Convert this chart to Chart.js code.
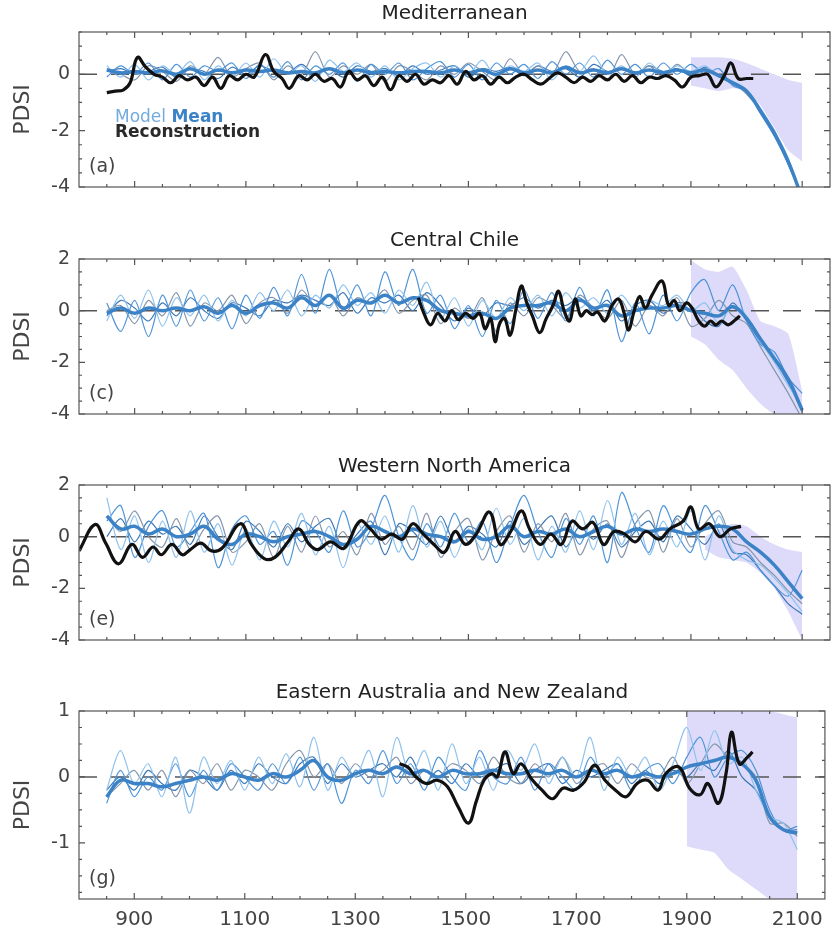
<!DOCTYPE html>
<html>
<head>
<meta charset="utf-8">
<title>PDSI model mean and reconstruction</title>
<script src="https://cdn.jsdelivr.net/npm/chart.js@4.4.0/dist/chart.umd.min.js"></script>
<style>
  html, body { margin: 0; padding: 0; background: #fff; }
  body { width: 832px; height: 932px; position: relative; overflow: hidden; }
  .panel { position: absolute; left: 0; width: 832px; }
</style>
</head>
<body>
<div class="panel" style="top:0;height:227px"><canvas id="chartA"></canvas></div>
<div class="panel" style="top:227px;height:226px"><canvas id="chartC"></canvas></div>
<div class="panel" style="top:453px;height:226px"><canvas id="chartE"></canvas></div>
<div class="panel" style="top:679px;height:253px"><canvas id="chartG"></canvas></div>
<script>
// ---- data ----
const modelYears = [
  850, 875, 900, 925, 950, 975, 1000, 1025, 1050, 1075,
  1100, 1125, 1150, 1175, 1200, 1225, 1250, 1275, 1300, 1325,
  1350, 1375, 1400, 1425, 1450, 1475, 1500, 1525, 1550, 1575,
  1600, 1625, 1650, 1675, 1700, 1725, 1750, 1775, 1800, 1825,
  1850, 1875, 1900, 1925, 1950, 1975, 2000, 2025, 2050, 2075,
  2100
];
const xLabels = [900, 1100, 1300, 1500, 1700, 1900, 2100];

// Mediterranean
const medModel1 = [
  0.30, -0.10, 0.35, -0.20, 0.30, 0.00, 0.45, -0.20, 0.30, -0.10,
  0.40, -0.10, 0.55, 0.00, 0.30, -0.25, 0.50, 0.10, 0.40, -0.10,
  0.30, -0.20, 0.20, 0.40, -0.10, 0.30, 0.00, 0.50, -0.10, 0.30,
  0.10, 0.40, -0.20, 0.30, 0.10, 0.65, 0.00, 0.30, -0.10, 0.40,
  0.00, 0.30, 0.10, 0.30, -0.10, -0.25, -0.55, -1.20, -2.00, -3.00,
  -4.40
];
const medModel2 = [
  -0.10, 0.30, 0.00, 0.40, -0.20, 0.35, -0.10, 0.30, 0.10, 0.40,
  -0.15, 0.35, -0.10, 0.45, -0.20, 0.30, 0.00, 0.40, -0.25, 0.35,
  0.00, 0.40, -0.20, 0.20, 0.45, -0.10, 0.35, -0.20, 0.40, 0.00,
  0.35, -0.15, 0.45, 0.00, 0.40, -0.10, 0.50, 0.00, 0.35, -0.10,
  0.40, 0.00, 0.35, 0.00, 0.20, -0.40, -0.60, -1.40, -2.20, -3.20,
  -4.30
];
const medModel3 = [
  0.20, 0.00, -0.20, 0.30, 0.10, -0.25, 0.30, 0.00, 0.60, -0.10,
  0.20, 0.40, -0.20, 0.30, 0.00, 0.80, -0.10, 0.30, 0.00, 0.35,
  -0.25, 0.30, 0.10, -0.20, 0.30, 0.00, 0.40, 0.10, -0.20, 0.55,
  0.00, 0.30, 0.00, 0.80, 0.10, 0.20, -0.20, 0.70, 0.00, 0.30,
  -0.10, 0.35, 0.00, 0.20, 0.00, -0.30, -0.70, -1.30, -2.10, -3.10,
  -4.40
];
const medModel4 = [
  0.10, 0.20, 0.00, 0.10, 0.25, -0.10, 0.20, 0.10, -0.15, 0.25,
  0.00, 0.30, 0.10, 0.05, 0.35, 0.00, 0.20, -0.10, 0.30, 0.10,
  0.20, -0.05, 0.30, 0.00, 0.15, 0.30, -0.10, 0.20, 0.10, 0.25,
  -0.05, 0.30, 0.10, 0.20, -0.10, 0.35, 0.10, 0.20, 0.00, 0.30,
  0.10, 0.20, -0.05, 0.25, -0.05, -0.35, -0.55, -1.30, -2.00, -3.20,
  -4.30
];
const medMean = [
  0.15, 0.05, 0.10, 0.05, 0.12, 0.00, 0.20, 0.00, 0.15, 0.05,
  0.15, 0.10, 0.15, 0.05, 0.10, 0.05, 0.20, 0.05, 0.15, 0.05,
  0.10, 0.05, 0.10, 0.10, 0.05, 0.15, 0.05, 0.15, 0.00, 0.20,
  0.05, 0.15, 0.05, 0.25, 0.05, 0.15, 0.05, 0.20, 0.05, 0.15,
  0.05, 0.15, 0.05, 0.15, -0.05, -0.30, -0.60, -1.30, -2.10, -3.10,
  -4.40
];
const medRecYears = [
  850, 865, 880, 892, 905, 920, 935, 950, 965, 980,
  995, 1010, 1025, 1040, 1055, 1070, 1085, 1100, 1115, 1135,
  1150, 1165, 1178, 1195, 1210, 1225, 1240, 1255, 1270, 1285,
  1300, 1315, 1330, 1345, 1360, 1375, 1390, 1405, 1420, 1435,
  1450, 1465, 1480, 1495, 1510, 1525, 1540, 1555, 1570, 1585,
  1600, 1615, 1630, 1645, 1660, 1675, 1690, 1705, 1720, 1735,
  1750, 1765, 1780, 1795, 1810, 1825, 1840, 1855, 1870, 1885,
  1900, 1915, 1930, 1945, 1960, 1972, 1985, 2000, 2012
];
const medRec = [
  -0.65, -0.60, -0.55, -0.30, 0.60, 0.25, 0.00, -0.10, -0.30, -0.05,
  -0.20, -0.10, -0.40, -0.10, -0.50, -0.05, -0.20, 0.00, -0.10, 0.70,
  0.10, -0.15, -0.50, -0.05, -0.20, 0.00, -0.25, -0.15, -0.45, 0.10,
  -0.20, -0.05, -0.40, -0.10, -0.55, -0.05, -0.25, 0.00, -0.35, -0.20,
  -0.30, -0.05, -0.35, 0.10, -0.20, -0.05, -0.35, -0.10, -0.30, -0.10,
  0.00, -0.20, -0.35, -0.15, 0.05, -0.10, -0.30, -0.10, -0.25, -0.05,
  -0.20, 0.00, -0.25, -0.05, -0.30, -0.10, -0.15, -0.05, -0.20, -0.45,
  -0.10, -0.05, 0.00, -0.45, -0.05, 0.40, -0.15, -0.15, -0.15
];
const medBandYears = [1900, 1925, 1950, 1975, 2000, 2025, 2050, 2075, 2100];
const medBandHigh = [0.60, 0.60, 0.60, 0.55, 0.40, 0.20, 0.00, -0.20, -0.30];
const medBandLow = [-0.40, -0.50, -0.60, -0.50, -0.60, -1.10, -1.90, -2.70, -3.10];

// Central Chile
const chiModel1 = [
  -0.40, 0.60, -0.30, 0.80, -0.60, 0.50, -0.20, 0.60, -0.40, 0.40,
  -0.20, 0.70, 0.00, 0.80, -0.20, 0.60, 0.10, 1.00, 0.20, 0.70,
  -0.10, 0.80, 0.20, 1.10, -0.30, 0.50, -0.60, 0.40, -0.30, 0.50,
  0.00, 0.60, -0.20, 0.70, 0.10, 0.50, -0.10, 0.60, 0.00, 0.40,
  0.20, 0.60, 0.00, 0.30, -0.50, 0.20, -0.20, -1.20, -2.00, -2.90,
  -3.70
];
const chiModel2 = [
  0.30, -0.80, 0.40, -1.00, 0.60, -0.60, 0.80, -0.40, 0.50, -0.70,
  0.60, -0.30, 0.90, -0.20, 1.40, -0.10, 1.60, 0.00, 1.00, -0.20,
  1.50, 0.20, 1.60, -0.10, 0.60, -0.70, 0.20, -1.00, 0.40, -0.50,
  0.80, -0.30, 0.70, -0.40, 0.90, -0.20, 0.80, -1.20, 0.30, -0.90,
  0.60, -0.40, 0.70, 1.20, 0.00, 1.00, -0.40, -1.30, -1.60, -2.60,
  -3.20
];
const chiModel3 = [
  0.00, 0.20, -0.50, 0.40, -0.20, 0.70, -0.60, 0.30, 0.00, 0.60,
  -0.50, 0.30, 0.50, -0.10, 0.80, 0.20, 0.60, -0.20, 0.50, 0.30,
  0.80, -0.10, 0.40, 0.60, -0.50, 0.10, -0.30, 0.50, -0.80, 0.30,
  -0.20, 0.50, 0.20, -0.30, 0.60, 0.10, -0.30, 0.40, -0.60, 0.20,
  -0.20, 0.50, -0.60, -0.30, 0.40, -0.20, -0.50, -1.40, -2.30, -3.20,
  -4.20
];
const chiModel4 = [
  -0.20, 0.40, 0.10, -0.40, 0.30, -0.20, 0.50, 0.00, -0.30, 0.30,
  0.10, -0.20, 0.40, 0.30, 0.60, 0.40, 0.20, 0.70, -0.10, 0.50,
  0.30, 0.60, 0.00, 0.70, 0.20, -0.40, 0.10, -0.20, 0.30, 0.20,
  0.50, 0.10, 0.40, 0.20, 0.50, 0.00, 0.40, -0.40, 0.20, 0.40,
  -0.10, 0.30, 0.20, -0.40, -0.60, 0.30, -0.40, -1.20, -1.90, -2.80,
  -3.90
];
const chiMean = [
  -0.10, 0.10, -0.10, 0.10, 0.00, 0.10, 0.00, 0.15, -0.10, 0.20,
  -0.10, 0.20, 0.30, 0.10, 0.50, 0.20, 0.60, 0.10, 0.40, 0.30,
  0.60, 0.30, 0.50, 0.40, 0.00, -0.10, -0.20, -0.10, -0.30, 0.10,
  0.20, 0.20, 0.30, 0.00, 0.40, 0.10, 0.20, -0.20, 0.00, 0.10,
  0.10, 0.20, 0.00, -0.10, -0.20, 0.15, -0.30, -1.10, -1.85, -2.65,
  -3.85
];
const chiRecYears = [
  1410, 1420, 1432, 1445, 1458, 1470, 1482, 1495, 1508, 1520,
  1530, 1540, 1548, 1556, 1565, 1575, 1585, 1595, 1605, 1615,
  1628, 1640, 1652, 1662, 1672, 1682, 1692, 1702, 1712, 1722,
  1732, 1745, 1758, 1770, 1780, 1788, 1798, 1808, 1818, 1830,
  1848, 1860, 1870, 1880, 1892, 1902, 1914, 1925, 1935, 1945,
  1955, 1967, 1980, 1988
];
const chiRec = [
  0.50, -0.10, -0.55, -0.10, -0.40, 0.00, -0.35, -0.10, -0.30, -0.10,
  -0.70, -0.30, -1.20, -0.50, -0.30, -0.95, 0.00, 0.95, 0.30, -0.20,
  -0.85, -0.30, 0.20, 0.75, 0.00, -0.40, 0.45, -0.20, 0.00, -0.15,
  -0.05, -0.40, 0.20, 0.45, -0.10, -0.75, 0.00, 0.55, 0.10, 0.60,
  1.15, 0.20, 0.40, 0.00, 0.30, 0.10, -0.40, -0.60, -0.40, -0.55,
  -0.40, -0.55, -0.35, -0.20
];
const chiBandYears = [1900, 1925, 1950, 1975, 2000, 2025, 2050, 2075, 2100];
const chiBandHigh = [1.95, 1.60, 1.50, 1.70, 0.80, -0.40, -0.60, -0.90, -3.10];
const chiBandLow = [-1.00, -1.30, -1.90, -2.30, -3.00, -3.60, -4.00, -4.00, -4.00];

// Western North America
const wnaModel1 = [
  1.50, -0.50, 0.80, -1.00, 0.60, -0.80, 1.00, -0.60, 0.50, -1.10,
  0.30, -0.90, 0.60, -0.40, 0.90, -0.70, 0.40, -1.20, 0.50, -0.30,
  0.80, -0.60, 1.20, -0.40, 0.60, -0.80, 0.30, -0.50, 1.10, -0.30,
  0.70, -0.90, 0.40, -0.60, 1.00, -0.50, 1.40, -0.30, 0.90, -0.70,
  0.60, -0.40, 1.00, -0.90, 0.80, -0.50, -0.90, -1.10, -1.60, -2.20,
  -2.90
];
const wnaModel2 = [
  0.60, 1.20, -0.80, 0.40, 1.00, -0.40, 0.20, 0.90, -1.20, 0.30,
  0.80, -0.30, 0.20, -1.10, 0.60, 0.20, -0.60, 1.00, -0.40, 0.30,
  1.60, 0.00, -0.90, 0.50, -0.40, 0.90, -0.20, 0.60, -1.00, 0.40,
  1.60, 0.20, -0.80, 0.70, -0.30, 0.80, -1.00, 1.70, 0.40, -0.60,
  1.20, 0.10, -0.60, 1.20, 0.20, -0.90, -0.60, -1.30, -1.90, -2.30,
  -1.30
];
const wnaModel3 = [
  0.80, 0.20, 1.00, 0.00, -0.40, 0.70, -0.50, 0.30, 0.80, -0.60,
  -0.20, 0.50, -0.80, 0.40, -0.60, 0.80, -0.40, 0.20, -0.70, 0.90,
  -0.30, 0.40, -0.50, 0.90, -0.80, 0.20, 0.70, -0.90, 0.20, 0.80,
  -0.60, 0.50, -0.20, 0.90, -0.70, 0.30, 0.60, -0.80, 0.50, 1.00,
  -0.60, 0.70, -0.40, 0.50, 1.00, -0.20, -0.40, -1.00, -1.50, -2.10,
  -2.60
];
const wnaModel4 = [
  0.00, 0.70, -0.20, 0.60, 0.10, 0.40, -0.30, 0.80, 0.00, -0.50,
  0.60, 0.20, -0.40, 0.50, -0.20, 0.40, 0.70, -0.50, 0.10, 0.60,
  -0.70, 0.50, 0.20, -0.30, 0.80, -0.20, 0.40, 0.10, -0.40, 0.60,
  -0.30, 0.30, 0.80, -0.40, 0.40, -0.10, 0.50, -0.40, 0.20, 0.60,
  -0.20, 0.80, 0.30, -0.30, 0.50, -0.60, -0.70, -1.30, -1.90, -2.60,
  -3.00
];
const wnaMean = [
  0.80, 0.30, 0.40, 0.10, 0.30, 0.00, 0.10, 0.40, -0.10, -0.30,
  0.10, 0.00, -0.20, 0.00, 0.10, 0.20, 0.00, -0.30, -0.10, 0.40,
  0.20, 0.00, 0.30, 0.10, 0.00, -0.20, 0.20, -0.10, 0.00, 0.40,
  0.00, 0.20, 0.10, 0.30, 0.00, 0.20, 0.40, 0.10, 0.30, 0.20,
  0.30, 0.20, 0.10, 0.30, 0.40, 0.30, -0.20, -0.60, -1.10, -1.75,
  -2.40
];
const wnaRecYears = [
  800, 829, 848, 871, 895, 914, 933, 948, 967, 986,
  1000, 1019, 1038, 1057, 1090, 1110, 1133, 1152, 1176, 1195,
  1214, 1229, 1252, 1276, 1305, 1324, 1343, 1362, 1381, 1400,
  1419, 1438, 1457, 1476, 1495, 1514, 1538, 1557, 1576, 1595,
  1610, 1629, 1648, 1667, 1686, 1705, 1724, 1743, 1762, 1781,
  1800, 1819, 1843, 1862, 1886, 1900, 1914, 1933, 1952, 1971,
  1990
];
const wnaRec = [
  -0.55, 0.47, -0.25, -1.05, -0.30, -0.80, -0.40, -0.70, -0.30, -0.70,
  -0.50, -0.25, -0.55, -0.45, 0.50, -0.30, -0.85, -0.80, -0.20, 0.30,
  -0.30, -0.50, -0.20, -0.45, 0.60, 0.30, -0.10, 0.10, -0.10, 0.50,
  0.10, -0.30, -0.60, 0.20, -0.30, 0.10, 0.95, -0.30, 0.20, 1.00,
  0.30, -0.30, 0.10, -0.30, 0.60, 0.30, 0.55, -0.30, 0.20, 0.10,
  -0.20, 0.20, -0.10, 0.30, 0.60, 1.15, 0.30, 0.50, 0.00, 0.30,
  0.40
];
const wnaBandYears = [1925, 1950, 1975, 2000, 2025, 2050, 2075, 2100];
const wnaBandHigh = [0.00, 0.30, 0.50, 0.40, 0.00, -0.30, -0.50, -0.60];
const wnaBandLow = [-0.50, -0.80, -0.90, -1.00, -1.40, -2.00, -2.90, -4.00];

// Eastern Australia and New Zealand
const anzModel1 = [
  -0.20, 0.40, -0.10, 0.20, -0.30, 0.30, -0.55, 0.30, -0.10, 0.25,
  -0.20, 0.30, -0.10, 0.35, -0.15, 0.60, -0.20, 0.30, 0.00, 0.40,
  -0.30, 0.60, 0.00, 0.40, -0.20, 0.50, -0.10, 0.30, -0.20, 0.40,
  0.10, 0.50, -0.10, 0.30, 0.00, 0.60, -0.20, 0.30, 0.00, 0.30,
  -0.20, 0.20, 0.75, 0.10, 0.70, 0.20, 0.30, -0.20, -0.60, -0.70,
  -1.10
];
const anzModel2 = [
  -0.40, 0.10, -0.30, 0.00, -0.20, 0.20, -0.30, 0.10, -0.20, 0.20,
  0.00, -0.20, 0.20, -0.10, 0.30, -0.20, 0.20, -0.40, 0.10, -0.10,
  0.40, -0.10, 0.20, -0.20, 0.30, 0.00, -0.20, 0.40, 0.00, -0.10,
  0.30, -0.20, 0.20, 0.00, -0.20, 0.30, 0.00, 0.20, -0.20, 0.10,
  0.20, -0.10, 0.30, 0.60, 0.00, 0.30, 0.40, 0.10, -0.50, -0.80,
  -0.75
];
const anzModel3 = [
  -0.30, -0.10, 0.10, -0.20, 0.10, -0.30, 0.10, -0.10, 0.20, -0.20,
  0.10, 0.00, -0.20, 0.20, 0.40, 0.00, 0.20, -0.10, 0.20, 0.00,
  0.10, 0.30, -0.10, 0.10, 0.00, 0.20, 0.10, -0.10, 0.30, 0.00,
  -0.10, 0.20, 0.00, 0.30, -0.10, 0.10, 0.20, -0.10, 0.20, 0.00,
  0.00, 0.30, -0.10, 0.20, 0.50, 0.30, 0.20, 0.00, -0.70, -0.70,
  -0.90
];
const anzModel4 = [
  -0.20, 0.00, -0.20, 0.10, -0.10, -0.20, 0.10, 0.00, -0.20, 0.10,
  -0.10, 0.20, 0.00, -0.10, 0.20, 0.30, -0.10, 0.20, 0.00, 0.10,
  0.20, 0.00, 0.30, -0.10, 0.10, -0.10, 0.20, 0.00, 0.10, 0.20,
  -0.10, 0.10, 0.20, -0.10, 0.10, 0.00, 0.10, 0.20, -0.10, 0.10,
  -0.10, 0.10, 0.00, 0.20, 0.10, 0.40, 0.00, -0.20, -0.60, -0.80,
  -0.80
];
const anzMean = [
  -0.30, -0.05, -0.10, -0.10, -0.15, -0.10, -0.05, 0.00, -0.05, 0.05,
  0.00, -0.05, 0.05, 0.00, 0.10, 0.25, 0.00, -0.05, 0.05, 0.10,
  0.05, 0.15, 0.05, 0.10, 0.00, 0.10, 0.05, 0.05, 0.10, 0.05,
  0.05, 0.10, 0.05, 0.10, 0.00, 0.10, 0.05, 0.10, 0.00, 0.05,
  0.00, 0.05, 0.15, 0.20, 0.25, 0.30, 0.20, -0.05, -0.60, -0.80,
  -0.85
];
const anzRecYears = [
  1380, 1395, 1410, 1429, 1448, 1467, 1486, 1505, 1519, 1533,
  1548, 1557, 1571, 1586, 1600, 1619, 1638, 1657, 1676, 1695,
  1714, 1733, 1752, 1771, 1790, 1810, 1829, 1848, 1862, 1886,
  1905, 1924, 1938, 1957, 1971, 1981, 1995, 2010, 2019
];
const anzRec = [
  0.20, 0.15, 0.00, -0.10, -0.05, -0.15, -0.45, -0.70, -0.37, -0.05,
  0.05, 0.00, 0.38, 0.05, 0.20, -0.03, -0.20, -0.33, -0.17, -0.20,
  -0.08, 0.18, -0.05, -0.20, -0.30, -0.10, -0.05, -0.20, 0.05, 0.15,
  -0.17, -0.27, -0.10, -0.40, 0.05, 0.68, 0.20, 0.30, 0.38
];
const anzBandYears = [1900, 1925, 1950, 1975, 2000, 2025, 2050, 2075, 2100];
const anzBandHigh = [1.00, 1.00, 1.00, 1.00, 1.00, 1.00, 1.00, 0.95, 0.90];
const anzBandLow = [-1.05, -1.10, -1.15, -1.40, -1.55, -1.70, -1.85, -1.85, -1.85];

// ---- drawing ----
Chart.defaults.font.family = '"DejaVu Sans", sans-serif';
Chart.defaults.color = '#444';

const thinColors = ['#8ec2ee', '#4d93d8', '#8595aa', '#3a78b8'];
const meanColor = '#3b82c6';

function pts(xs, ys) {
  return xs.map((x, i) => ({ x: x, y: ys[i] }));
}

function boxPlugin(p) {
  return {
    id: 'box' + p.letter,
    afterDraw(chart) {
      const { ctx, chartArea: a, scales: { x, y } } = chart;
      ctx.save();
      ctx.strokeStyle = '#555';
      ctx.lineWidth = 1.2;
      ctx.strokeRect(a.left, a.top, a.right - a.left, a.bottom - a.top);
      ctx.beginPath();
      // inward ticks, every 50 years, long ones under the labels
      for (let yr = 850; yr < 2150; yr += 50) {
        const px = x.getPixelForValue(yr);
        const len = xLabels.includes(yr) ? 6 : 3;
        ctx.moveTo(px, a.bottom); ctx.lineTo(px, a.bottom - len);
        ctx.moveTo(px, a.top); ctx.lineTo(px, a.top + len);
      }
      const n = Math.round((p.yMax - p.yMin) / p.yStep);
      for (let k = 0; k <= n; k++) {
        const v = Math.round((Math.ceil(p.yMin / p.yStep) + k) * p.yStep * 100) / 100;
        if (v > p.yMax) break;
        const py = y.getPixelForValue(v);
        const len = p.yLabels.includes(v) ? 6 : 3;
        ctx.moveTo(a.left, py); ctx.lineTo(a.left + len, py);
        ctx.moveTo(a.right, py); ctx.lineTo(a.right - len, py);
      }
      ctx.stroke();

      ctx.font = '19px "DejaVu Sans"';
      ctx.fillStyle = '#444';
      ctx.textBaseline = 'middle';
      ctx.fillText('(' + p.letter + ')', a.left + 10, a.bottom - 20);

      if (p.legend) {
        ctx.textBaseline = 'middle';
        ctx.font = '17px "DejaVu Sans"';
        ctx.fillStyle = '#74abdd';
        ctx.fillText('Model ', a.left + 36, a.top + 86);
        const w = ctx.measureText('Model ').width;
        ctx.font = 'bold 17px "DejaVu Sans"';
        ctx.fillStyle = meanColor;
        ctx.fillText('Mean', a.left + 36 + w, a.top + 86);
        ctx.fillStyle = '#2a2a2a';
        ctx.fillText('Reconstruction', a.left + 36, a.top + 101);
      }
      ctx.restore();
    }
  };
}

function makePanel(id, p) {
  const datasets = [
    {
      data: pts(p.bandYears, p.bandHigh), borderWidth: 0, pointRadius: 0,
      backgroundColor: 'rgba(188, 184, 244, 0.5)', fill: '+1', tension: 0.2, order: 10
    },
    {
      data: pts(p.bandYears, p.bandLow), borderWidth: 0, pointRadius: 0,
      fill: false, tension: 0.2, order: 10
    },
    {
      data: [{ x: 800, y: 0 }, { x: 2150, y: 0 }], borderColor: '#555',
      borderWidth: 1.5, borderDash: [18, 14], pointRadius: 0, order: 9
    }
  ];
  p.models.forEach((m, i) => {
    datasets.push({
      data: pts(modelYears, m), borderColor: thinColors[i], borderWidth: 1.2,
      pointRadius: 0, tension: 0.3, fill: false, order: 5
    });
  });
  datasets.push({
    data: pts(modelYears, p.mean), borderColor: meanColor, borderWidth: 3.5,
    pointRadius: 0, tension: 0.4, fill: false, order: 2
  });
  datasets.push({
    data: pts(p.recYears, p.rec), borderColor: '#111', borderWidth: 3.2,
    pointRadius: 0, tension: 0.4, fill: false, order: 1
  });

  const canvasH = document.getElementById(id).parentNode.clientHeight;
  new Chart(document.getElementById(id), {
    type: 'line',
    data: { datasets: datasets },
    options: {
      responsive: true,
      maintainAspectRatio: false,
      animation: false,
      events: [],
      layout: { padding: { left: 10, right: 2, top: 0, bottom: p.bottom ? 0 : canvasH - 220 } },
      plugins: {
        legend: { display: false },
        tooltip: { enabled: false },
        title: {
          display: true, text: p.title, fullSize: false, color: '#222',
          font: { size: 20, weight: 'normal' }, padding: { top: 2, bottom: 6 }
        }
      },
      scales: {
        x: {
          type: 'linear', min: 800, max: 2150, display: p.bottom,
          grid: { display: false, drawTicks: false }, border: { display: false },
          afterBuildTicks: s => { s.ticks = xLabels.map(v => ({ value: v })); },
          afterFit: s => { s.height = 33; },
          ticks: { font: { size: 20 }, color: '#444', padding: 9, maxRotation: 0, autoSkip: false,
                   callback: v => String(v) }
        },
        y: {
          min: p.yMin, max: p.yMax,
          grid: { display: false, drawTicks: false }, border: { display: false },
          afterBuildTicks: s => { s.ticks = p.yLabels.map(v => ({ value: v })); },
          afterFit: s => { s.width = 69; },
          title: { display: true, text: 'PDSI', color: '#444', font: { size: 22 }, padding: 0 },
          ticks: { font: { size: 19 }, color: '#444', padding: 9, callback: v => String(v) }
        }
      }
    },
    plugins: [boxPlugin(p)]
  });
}

makePanel('chartA', {
  title: 'Mediterranean', letter: 'a', legend: true, bottom: false,
  yMin: -4, yMax: 1.5, yStep: 0.5, yLabels: [0, -2, -4],
  models: [medModel1, medModel2, medModel3, medModel4], mean: medMean,
  recYears: medRecYears, rec: medRec,
  bandYears: medBandYears, bandHigh: medBandHigh, bandLow: medBandLow
});
makePanel('chartC', {
  title: 'Central Chile', letter: 'c', legend: false, bottom: false,
  yMin: -4, yMax: 2, yStep: 0.5, yLabels: [2, 0, -2, -4],
  models: [chiModel1, chiModel2, chiModel3, chiModel4], mean: chiMean,
  recYears: chiRecYears, rec: chiRec,
  bandYears: chiBandYears, bandHigh: chiBandHigh, bandLow: chiBandLow
});
makePanel('chartE', {
  title: 'Western North America', letter: 'e', legend: false, bottom: false,
  yMin: -4, yMax: 2, yStep: 0.5, yLabels: [2, 0, -2, -4],
  models: [wnaModel1, wnaModel2, wnaModel3, wnaModel4], mean: wnaMean,
  recYears: wnaRecYears, rec: wnaRec,
  bandYears: wnaBandYears, bandHigh: wnaBandHigh, bandLow: wnaBandLow
});
makePanel('chartG', {
  title: 'Eastern Australia and New Zealand', letter: 'g', legend: false, bottom: true,
  yMin: -1.85, yMax: 1, yStep: 0.25, yLabels: [1, 0, -1],
  models: [anzModel1, anzModel2, anzModel3, anzModel4], mean: anzMean,
  recYears: anzRecYears, rec: anzRec,
  bandYears: anzBandYears, bandHigh: anzBandHigh, bandLow: anzBandLow
});
</script>
</body>
</html>
